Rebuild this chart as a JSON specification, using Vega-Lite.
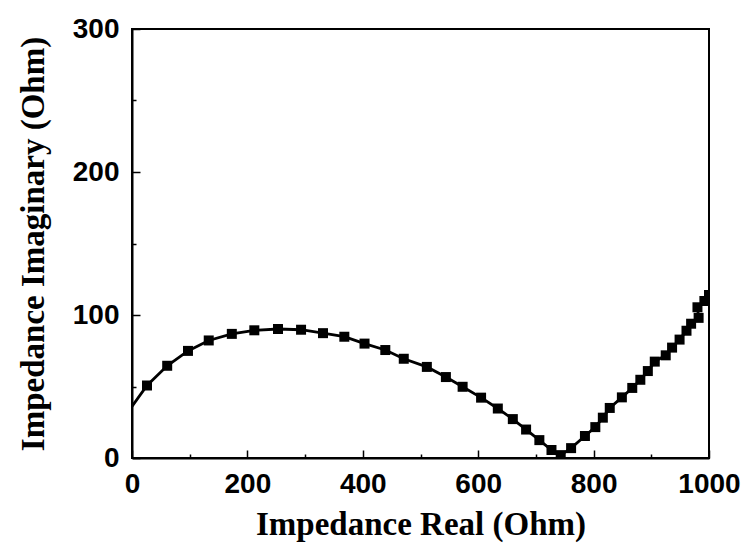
{
  "$schema": "https://vega.github.io/schema/vega-lite/v6.json",
  "width": 577,
  "height": 429,
  "autosize": {"type": "none"},
  "padding": {"left": 132, "top": 29, "right": 42, "bottom": 93},
  "background": "white",
  "config": {
    "view": {"stroke": "black", "strokeWidth": 2},
    "axis": {"grid": false, "domainColor": "black", "domainWidth": 2, "tickColor": "black", "tickWidth": 1.5, "labelColor": "black", "titleColor": "black"}
  },
  "datasets": {
    "curve": [
      {"i": 0, "re": 0, "im": 36},
      {"i": 1, "re": 26, "im": 50.7},
      {"i": 2, "re": 61, "im": 64.5},
      {"i": 3, "re": 97, "im": 74.9},
      {"i": 4, "re": 133, "im": 82.2},
      {"i": 5, "re": 173, "im": 86.8},
      {"i": 6, "re": 212, "im": 89.3},
      {"i": 7, "re": 253, "im": 90.2},
      {"i": 8, "re": 293, "im": 89.7},
      {"i": 9, "re": 331, "im": 87.3},
      {"i": 10, "re": 368, "im": 84.8},
      {"i": 11, "re": 403, "im": 80},
      {"i": 12, "re": 439, "im": 75.5},
      {"i": 13, "re": 471, "im": 69.4},
      {"i": 14, "re": 511, "im": 63.7},
      {"i": 15, "re": 544, "im": 56.6},
      {"i": 16, "re": 573, "im": 49.8},
      {"i": 17, "re": 605, "im": 42.2},
      {"i": 18, "re": 634, "im": 34.6},
      {"i": 19, "re": 660, "im": 27.2},
      {"i": 20, "re": 683, "im": 19.9},
      {"i": 21, "re": 706, "im": 12.5},
      {"i": 22, "re": 727, "im": 5.6},
      {"i": 23, "re": 743, "im": 2},
      {"i": 24, "re": 761, "im": 6.9},
      {"i": 25, "re": 785, "im": 15.4},
      {"i": 26, "re": 803, "im": 21.6},
      {"i": 27, "re": 816, "im": 28.2},
      {"i": 28, "re": 828, "im": 35},
      {"i": 29, "re": 849, "im": 42.4},
      {"i": 30, "re": 867, "im": 49},
      {"i": 31, "re": 881, "im": 54.7},
      {"i": 32, "re": 894, "im": 60.8},
      {"i": 33, "re": 906, "im": 67.4},
      {"i": 34, "re": 925, "im": 71.8},
      {"i": 35, "re": 936, "im": 77.2},
      {"i": 36, "re": 949, "im": 82.8},
      {"i": 37, "re": 961, "im": 89},
      {"i": 38, "re": 969, "im": 93.9},
      {"i": 39, "re": 982, "im": 98},
      {"i": 40, "re": 980, "im": 105.4},
      {"i": 41, "re": 992, "im": 109.8},
      {"i": 42, "re": 1000, "im": 114}
    ],
    "pts": [
      {"re": 26, "im": 50.7},
      {"re": 61, "im": 64.5},
      {"re": 97, "im": 74.9},
      {"re": 133, "im": 82.2},
      {"re": 173, "im": 86.8},
      {"re": 212, "im": 89.3},
      {"re": 253, "im": 90.2},
      {"re": 293, "im": 89.7},
      {"re": 331, "im": 87.3},
      {"re": 368, "im": 84.8},
      {"re": 403, "im": 80},
      {"re": 439, "im": 75.5},
      {"re": 471, "im": 69.4},
      {"re": 511, "im": 63.7},
      {"re": 544, "im": 56.6},
      {"re": 573, "im": 49.8},
      {"re": 605, "im": 42.2},
      {"re": 634, "im": 34.6},
      {"re": 660, "im": 27.2},
      {"re": 683, "im": 19.9},
      {"re": 706, "im": 12.5},
      {"re": 727, "im": 5.6},
      {"re": 743, "im": 2},
      {"re": 761, "im": 6.9},
      {"re": 785, "im": 15.4},
      {"re": 803, "im": 21.6},
      {"re": 816, "im": 28.2},
      {"re": 828, "im": 35},
      {"re": 849, "im": 42.4},
      {"re": 867, "im": 49},
      {"re": 881, "im": 54.7},
      {"re": 894, "im": 60.8},
      {"re": 906, "im": 67.4},
      {"re": 925, "im": 71.8},
      {"re": 936, "im": 77.2},
      {"re": 949, "im": 82.8},
      {"re": 961, "im": 89},
      {"re": 969, "im": 93.9},
      {"re": 982, "im": 98},
      {"re": 980, "im": 105.4},
      {"re": 992, "im": 109.8},
      {"re": 1000, "im": 114}
    ]
  },
  "layer": [
    {
      "data": {"name": "curve"},
      "mark": {"type": "line", "color": "black", "strokeWidth": 2.8, "clip": true},
      "encoding": {
        "x": {
          "field": "re", "type": "quantitative",
          "scale": {"domain": [0, 1000], "nice": false, "zero": false},
          "axis": {
            "orient": "bottom", "values": [0, 200, 400, 600, 800, 1000], "format": "d",
            "tickSize": -8, "labelPadding": 20,
            "labelFont": "Liberation Sans", "labelFontWeight": "bold", "labelFontSize": 28,
            "labelFlush": false, "labelOverlap": false,
            "title": "Impedance Real (Ohm)", "titleFont": "Liberation Serif", "titleFontWeight": "bold", "titleFontSize": 33, "titlePadding": 10
          }
        },
        "y": {
          "field": "im", "type": "quantitative",
          "scale": {"domain": [0, 300], "nice": false, "zero": false},
          "axis": {
            "orient": "left", "values": [0, 100, 200, 300], "format": "d",
            "tickSize": -8, "labelPadding": 21,
            "labelFont": "Liberation Sans", "labelFontWeight": "bold", "labelFontSize": 28,
            "labelFlush": false, "labelOverlap": false,
            "title": "Impedance Imaginary (Ohm)", "titleFont": "Liberation Serif", "titleFontWeight": "bold", "titleFontSize": 33, "titlePadding": 22
          }
        },
        "order": {"field": "i", "type": "quantitative"}
      }
    },
    {
      "data": {"name": "pts"},
      "mark": {"type": "square", "size": 100, "color": "black", "opacity": 1, "clip": true},
      "encoding": {
        "x": {
          "field": "re", "type": "quantitative",
          "axis": {"orient": "bottom", "values": [100, 300, 500, 700, 900], "tickSize": -4, "labels": false, "domain": false, "title": null}
        },
        "y": {
          "field": "im", "type": "quantitative",
          "axis": {"orient": "left", "values": [50, 150, 250], "tickSize": -4, "labels": false, "domain": false, "title": null}
        }
      }
    }
  ],
  "resolve": {"axis": {"x": "independent", "y": "independent"}}
}
